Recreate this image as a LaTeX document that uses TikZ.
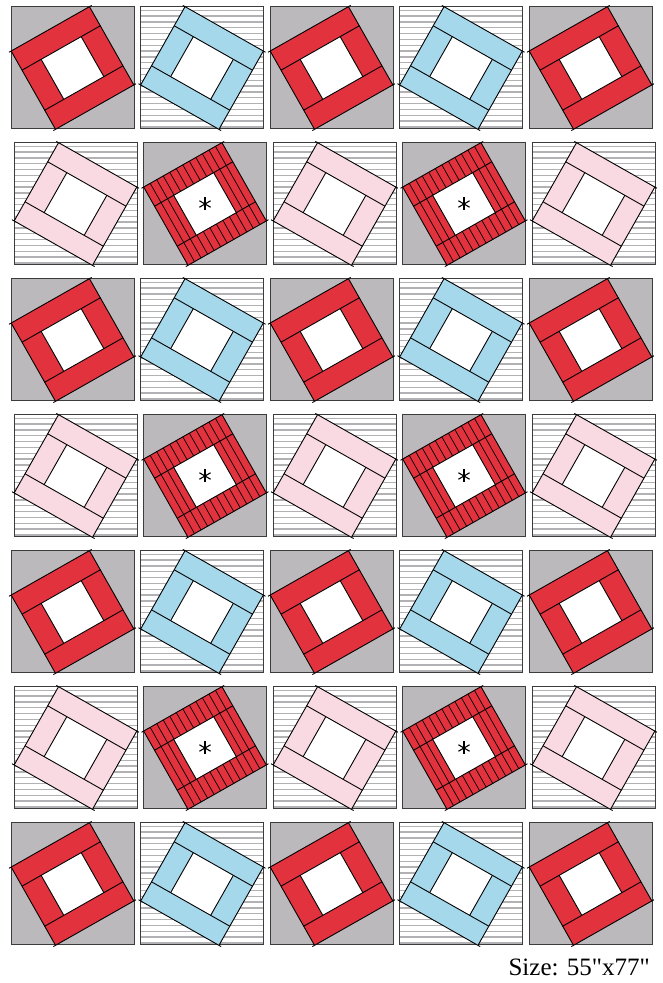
\documentclass[tikz,border=0pt]{standalone}
\usepackage{fontspec}
\setmainfont{Liberation Serif}[Ligatures=TeXOff]
\usetikzlibrary{positioning,calc}
\definecolor{quiltred}{RGB}{226,50,62}
\definecolor{quiltblue}{RGB}{166,216,236}
\definecolor{quiltpink}{RGB}{250,218,226}
\definecolor{quiltgray}{RGB}{188,185,189}
\definecolor{stripegray}{RGB}{178,178,180}
\definecolor{framegray}{RGB}{60,60,60}

\begin{document}
\begin{tikzpicture}[
  x=1pt, y=1pt,
  every node/.style={font=\fontsize{25}{30}\selectfont},
  seam/.style={draw=black, line width=0.9pt},
  longseam/.style={seam, shorten <=-2.5pt, shorten >=-2.5pt},
  thinseam/.style={draw=black, line width=0.7pt},
  blockframe/.style={draw=framegray, line width=1pt},
  pics/graybox/.style={code={
    \path[blockframe, fill=quiltgray] (0,0) rectangle (123,-122);
  }},
  pics/stripebox/.style={code={
    \fill[white] (0,0) rectangle (123,-122);
    \foreach \k in {0,...,20}
      \draw[stripegray, line width=1.3pt] (0,{-3.3-5.83*\k}) -- (123,{-3.3-5.83*\k});
    \draw[blockframe] (0,0) rectangle (123,-122);
  }},
  pics/cabin/.style n args={2}{code={
    \begin{scope}[shift={(61.5,-61)}, rotate=#1]
      \fill[#2] (-45,-45) rectangle (45,45);
      \fill[white] (-23,-23) rectangle (23,23);
      \draw[longseam] (-45,45) -- (45,45);
      \draw[longseam] (-45,-45) -- (45,-45);
      \draw[seam] (-45,-45) -- (-45,45);
      \draw[seam] (45,-45) -- (45,45);
      \draw[seam] (-45,23) -- (45,23);
      \draw[seam] (-45,-23) -- (45,-23);
      \draw[seam] (-23,-23) -- (-23,23);
      \draw[seam] (23,-23) -- (23,23);
    \end{scope}
  }},
  pics/starcabin/.style={code={
    \begin{scope}[shift={(61.5,-61)}, rotate=29.55]
      \fill[quiltred] (-45,-45) rectangle (45,45);
      \foreach \k in {1,...,11}
        \draw[thinseam] ({-45+7.5*\k},-45) -- ({-45+7.5*\k},45);
      \fill[white] (-23,-23) rectangle (23,23);
      \draw[longseam] (-45,45) -- (45,45);
      \draw[longseam] (-45,-45) -- (45,-45);
      \draw[seam] (-45,-45) -- (-45,45);
      \draw[seam] (45,-45) -- (45,45);
      \draw[seam] (-45,23) -- (45,23);
      \draw[seam] (-45,-23) -- (45,-23);
      \draw[seam] (-23,-23) -- (-23,23);
      \draw[seam] (23,-23) -- (23,23);
    \end{scope}
    % centre star
    \begin{scope}[shift={(61.5,-61)}]
      \foreach \ang in {90,30,150}
        \draw[seam, line width=1.1pt] (\ang:6.5) -- (\ang+180:6.5);
    \end{scope}
  }},
]
\useasboundingbox[fill=white] (0,0) rectangle (662,983);

% 7 rows x 5 columns of blocks
\foreach \r in {0,...,6}{
  \foreach \c in {0,...,4}{
    \pgfmathsetmacro{\bx}{11+129.5*\c+3*mod(\r,2)}
    \pgfmathsetmacro{\by}{983-7-136*\r}
    \pgfmathtruncatemacro{\kind}{2*mod(\r,2)+mod(\c,2)}
    \coordinate (blk-\r-\c) at (\bx,\by);
    \ifcase\kind
      \path (blk-\r-\c) pic {graybox} pic {cabin={29.55}{quiltred}};
    \or
      \path (blk-\r-\c) pic {stripebox} pic {cabin={-29.55}{quiltblue}};
    \or
      \path (blk-\r-\c) pic {stripebox} pic {cabin={-29.55}{quiltpink}};
    \or
      \path (blk-\r-\c) pic {graybox} pic {starcabin};
    \fi
  }
}

\node[anchor=base east, inner sep=0pt] (size) at (650,7) {Size: 55"x77"};
\end{tikzpicture}
\end{document}
